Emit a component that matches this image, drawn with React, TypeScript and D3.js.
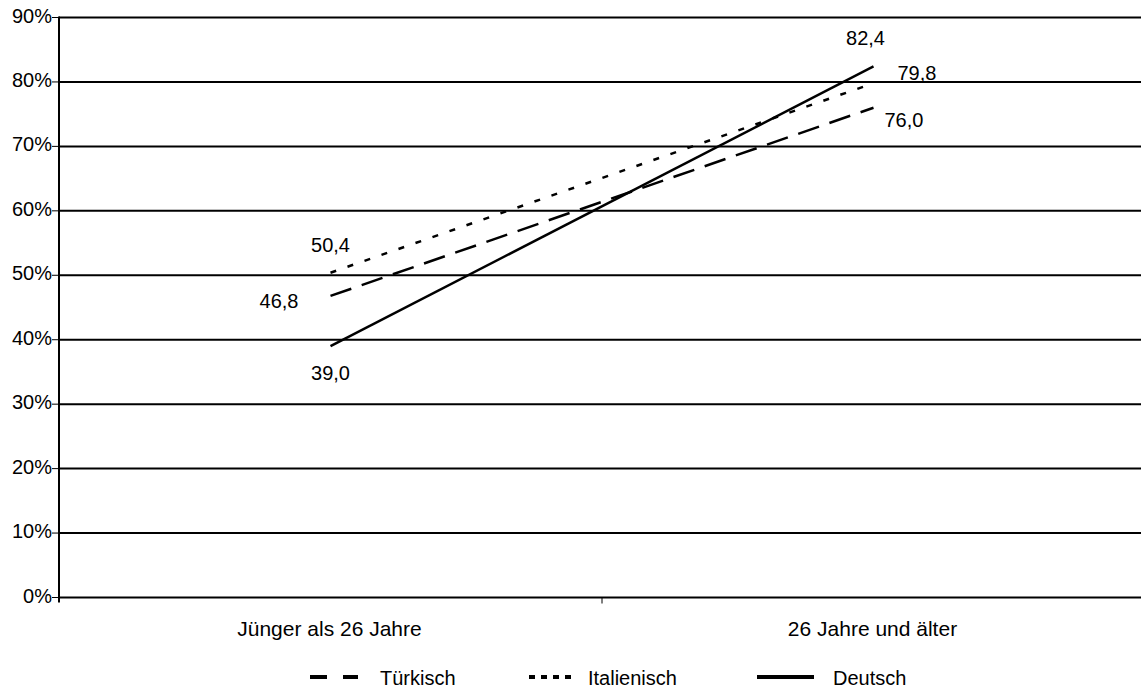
import React from "react";
import * as d3 from "d3";

const categories = ["Jünger als 26 Jahre", "26 Jahre und älter"];
const seriesNames = ["Türkisch", "Italienisch", "Deutsch"];
const tuerkisch = [46.8, 76.0];
const italienisch = [50.4, 79.8];
const deutsch = [39.0, 82.4];
const yTicks = [0, 10, 20, 30, 40, 50, 60, 70, 80, 90];

const seriesValues = [tuerkisch, italienisch, deutsch];
const dashes = ["22,11", "6,12", null];
const legendDashes = ["17,16", "6,6", null];
// label offsets relative to the point [dx, dy, anchor]
const labelOffsets: [number, number, string][][] = [
  [[-32, 12, "end"], [11, 19, "start"]],
  [[0, -21, "middle"], [24, -3, "start"]],
  [[0, 34, "middle"], [-8, -21, "middle"]],
];
const legendPos = [
  { x1: 310, x2: 358, tx: 380 },
  { x1: 529, x2: 571, tx: 588 },
  { x1: 757, x2: 814, tx: 833 },
];

const W = 1141;
const H = 693;
const left = 59;
const top = 17.5;
const bottom = 597.5;
const font = "'Liberation Sans', Arial, sans-serif";

export default function App() {
  const x = d3.scalePoint<string>().domain(categories).range([left, 1145]).padding(0.5);
  const y = d3.scaleLinear().domain([0, 90]).range([bottom, top]);
  const line = d3
    .line<number>()
    .x((_, i) => x(categories[i]) as number)
    .y((d) => y(d));
  const fmt = (v: number) => v.toFixed(1).replace(".", ",");
  const midTick = ((x(categories[0]) as number) + (x(categories[1]) as number)) / 2;

  return (
    <svg
      width={W}
      height={H}
      style={{ position: "absolute", left: 0, top: 0, background: "#fff" }}
      fontFamily={font}
      fontSize={20}
    >
      {yTicks.map((t) => (
        <g key={t}>
          <line x1={left} x2={W} y1={y(t)} y2={y(t)} stroke="#000" strokeWidth={2} />
          <line x1={52} x2={left} y1={y(t)} y2={y(t)} stroke="#000" strokeWidth={1} />
          <text x={52} y={y(t) + 5} textAnchor="end" fill="#000">
            {t}%
          </text>
        </g>
      ))}
      <line x1={left} x2={left} y1={top - 1} y2={bottom + 5} stroke="#000" strokeWidth={2} />
      <line x1={midTick} x2={midTick} y1={bottom} y2={bottom + 6} stroke="#000" strokeWidth={1} />
      {categories.map((c) => (
        <text key={c} x={(x(c) as number) - 1} y={636} textAnchor="middle" fill="#000" fontSize={21}>
          {c}
        </text>
      ))}
      {seriesValues.map((vals, si) => (
        <path
          key={si}
          d={line(vals) || ""}
          fill="none"
          stroke="#000"
          strokeWidth={2.5}
          strokeDasharray={dashes[si] || undefined}
        />
      ))}
      {seriesValues.map((vals, si) =>
        vals.map((v, i) => {
          const [dx, dy, anchor] = labelOffsets[si][i];
          return (
            <text
              key={`${si}-${i}`}
              x={(x(categories[i]) as number) + dx}
              y={y(v) + dy}
              textAnchor={anchor as any}
              fill="#000"
            >
              {fmt(v)}
            </text>
          );
        })
      )}
      {seriesNames.map((n, si) => (
        <g key={n}>
          <line
            x1={legendPos[si].x1}
            x2={legendPos[si].x2}
            y1={677}
            y2={677}
            stroke="#000"
            strokeWidth={4}
            strokeDasharray={legendDashes[si] || undefined}
          />
          <text x={legendPos[si].tx} y={685} fill="#000">
            {n}
          </text>
        </g>
      ))}
    </svg>
  );
}
